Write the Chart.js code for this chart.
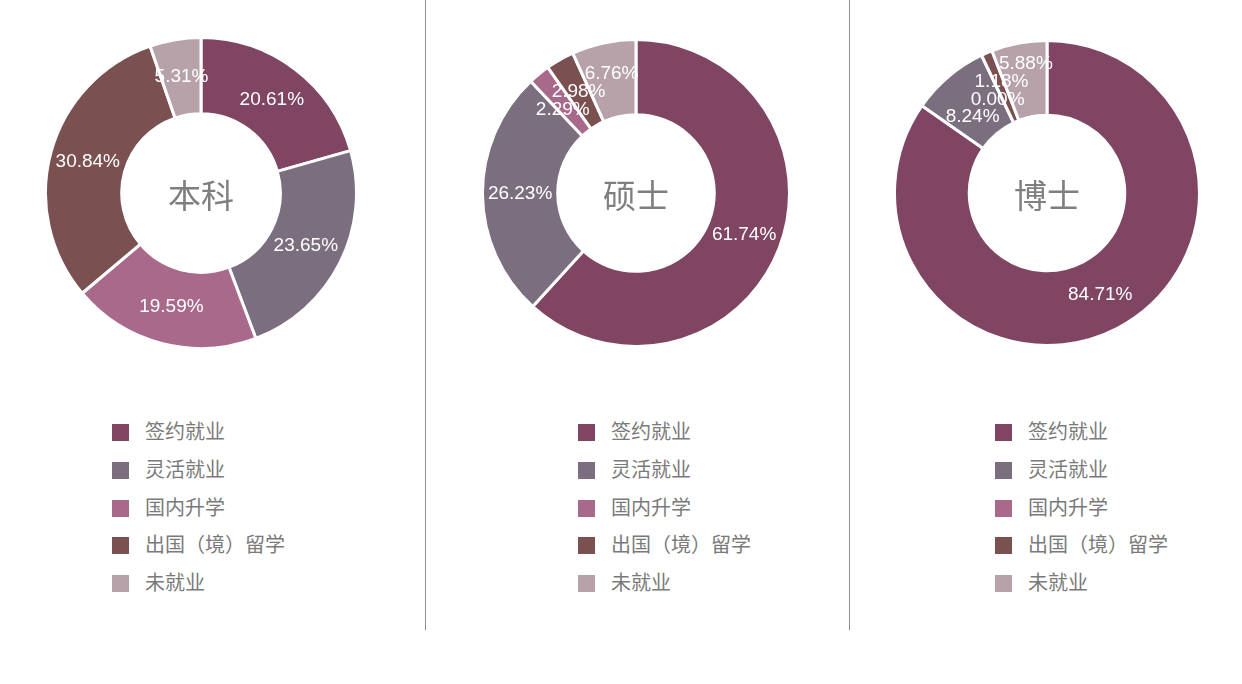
<!DOCTYPE html>
<html>
<head>
<meta charset="utf-8">
<script src="https://cdn.jsdelivr.net/npm/chart.js@4/dist/chart.umd.min.js"></script>
<style>
  body { margin: 0; background: #fff; width: 1242px; height: 684px; position: relative; overflow: hidden; }
  .pie { position: absolute; }
  .divider { position: absolute; top: 0; width: 1px; height: 630px; background: #9a8a98; }
  .legend { position: absolute; top: 413px; font-family: "Noto Sans CJK SC", sans-serif; font-size: 20px; color: #7a7a7a; }
  .legend div { height: 37.8px; line-height: 36px; white-space: nowrap; }
  .legend span.box { display: inline-block; width: 17px; height: 17px; margin-right: 16px; vertical-align: -2px; }
</style>
</head>
<body>

<div class="divider" style="left:425px"></div>
<div class="divider" style="left:849px"></div>

<div class="pie" style="left:44px;top:36px;width:314px;height:314px"><canvas id="c0"></canvas></div>
<div class="pie" style="left:481px;top:38px;width:310px;height:310px"><canvas id="c1"></canvas></div>
<div class="pie" style="left:893px;top:39px;width:308px;height:308px"><canvas id="c2"></canvas></div>

<div class="legend" id="lg0" style="left:112px"></div>
<div class="legend" id="lg1" style="left:578px"></div>
<div class="legend" id="lg2" style="left:995px"></div>

<script>
'use strict';

//categories and colours
var categories = ['签约就业', '灵活就业', '国内升学', '出国（境）留学', '未就业'];
var sliceColors = ['#7f4562', '#7b6e7e', '#a8698b', '#7b5050', '#b6a2a8'];

//one array per degree level (percent)
var levels = ['本科', '硕士', '博士'];
var bachelorValues = [20.61, 23.65, 19.59, 30.84, 5.31];
var masterValues = [61.74, 26.23, 2.29, 2.98, 6.76];
var doctorValues = [84.71, 8.24, 0.00, 1.18, 5.88];

var allValues = [bachelorValues, masterValues, doctorValues];

//draws the percent labels on the ring, pushing apart the ones that collide
var sliceLabels = {
  id: 'sliceLabels',
  afterDatasetsDraw: function(chart) {
    var ctx = chart.ctx;
    var meta = chart.getDatasetMeta(0);
    var data = chart.data.datasets[0].data;
    var cx = 0;
    ctx.save();
    ctx.font = '19px "Liberation Sans", Arial, sans-serif';
    var boxes = [];
    meta.data.forEach(function(arc, i) {
      var p = arc.getProps(['x', 'y', 'startAngle', 'endAngle', 'innerRadius', 'outerRadius'], true);
      var mid = (p.startAngle + p.endAngle) / 2;
      var r = (p.innerRadius + p.outerRadius) / 2;
      var text = data[i].toFixed(2) + '%';
      cx = p.x;
      boxes.push({
        text: text,
        x: p.x + Math.cos(mid) * r,
        y: p.y + Math.sin(mid) * r,
        w: ctx.measureText(text).width,
        h: 17
      });
    });
    //later slice goes up on the left half, down on the right half
    for (var it = 0; it < 40; it++) {
      for (var a = 0; a < boxes.length; a++) {
        for (var b = a + 1; b < boxes.length; b++) {
          var A = boxes[a], B = boxes[b];
          var ox = (A.w + B.w) / 2 - Math.abs(A.x - B.x);
          var oy = (A.h + B.h) / 2 - Math.abs(A.y - B.y);
          if (ox > 0 && oy > 0) {
            var d = oy / 2 + 0.5;
            if (B.x < cx) { A.y += d; B.y -= d; }
            else { A.y -= d; B.y += d; }
          }
        }
      }
    }
    ctx.fillStyle = '#ffffff';
    ctx.textAlign = 'center';
    ctx.textBaseline = 'middle';
    boxes.forEach(function(bx) { ctx.fillText(bx.text, bx.x, bx.y); });
    ctx.restore();
  }
};

//level name in the hole
var centerText = {
  id: 'centerText',
  afterDraw: function(chart, args, opts) {
    var arc = chart.getDatasetMeta(0).data[0];
    var ctx = chart.ctx;
    ctx.save();
    ctx.font = '33px "Noto Sans CJK SC", sans-serif';
    ctx.fillStyle = '#7f7f7f';
    ctx.textAlign = 'center';
    ctx.textBaseline = 'middle';
    ctx.fillText(opts.text, arc.x, arc.y + 2);
    ctx.restore();
  }
};

levels.forEach(function(level, n) {
  new Chart(document.getElementById('c' + n), {
    type: 'doughnut',
    data: {
      labels: categories,
      datasets: [{
        data: allValues[n],
        backgroundColor: sliceColors,
        borderColor: '#ffffff',
        borderWidth: 3,
        hoverOffset: 0
      }]
    },
    options: {
      responsive: true,
      maintainAspectRatio: false,
      animation: false,
      cutout: '51%',
      events: [],
      layout: { padding: 0 },
      plugins: {
        legend: { display: false },
        tooltip: { enabled: false },
        centerText: { text: level }
      }
    },
    plugins: [sliceLabels, centerText]
  });

  //legend list
  var html = '';
  categories.forEach(function(cat, i) {
    html += '<div><span class="box" style="background:' + sliceColors[i] + '"></span>' + cat + '</div>';
  });
  document.getElementById('lg' + n).innerHTML = html;
});
</script>
</body>
</html>
